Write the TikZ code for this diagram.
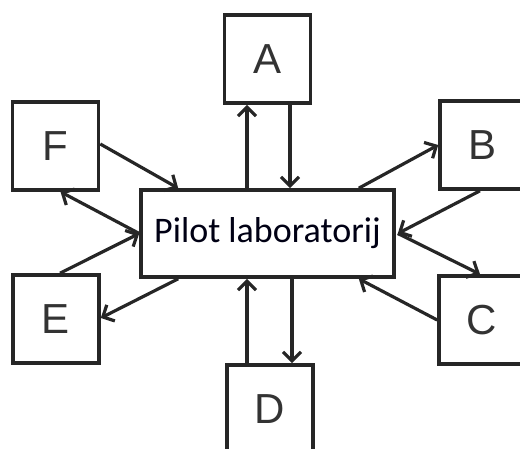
\documentclass[tikz,border=0pt]{standalone}
\usepackage{fontspec}
\setmainfont{Liberation Sans}
\newfontfamily\mainlabelfont{Carlito}
\usetikzlibrary{arrows.meta,calc}
\tikzset{
  every picture/.style={x=1pt,y=-1pt},
  letterbox/.style={draw=black!85, line width=3.6pt, fill=white, minimum width=86pt, minimum height=88pt, inner sep=0pt, font=\fontsize{42}{42}\selectfont, text=black!80},
  mainbox/.style={draw=black!85, line width=3.6pt, fill=white, minimum width=253pt, minimum height=87pt, inner sep=0pt, font=\mainlabelfont\fontsize{36}{36}\selectfont, text=black!92!blue},
  arr/.style={draw=black!85, line width=3.2pt, -{Straight Barb[length=9pt,width=18pt,line width=3.2pt]}},
}
\begin{document}
\begin{tikzpicture}
\useasboundingbox (0,0) rectangle (520,449);
\clip (0,0) rectangle (520,449);
\node[mainbox] (main) at (267.5,233.5) {Pilot laboratorij};
\node[letterbox] (A) at (267.5,59) {A};
\node[letterbox] (F) at (55.5,146) {F};
\node[letterbox] (E) at (56,319) {E};
\node[letterbox] (B) at (483,145) {B};
\node[letterbox] (C) at (482,320) {C};
\node[letterbox] (D) at (270,409) {D};
% A
\draw[arr] ([xshift=-20.5pt]main.north) -- ([xshift=-20.5pt]main.north |- A.south);
\draw[arr] ([xshift=22.5pt]A.south) -- ([xshift=22.5pt]A.south |- main.north);
% D
\draw[arr] ([xshift=-23pt]D.north) -- ([xshift=-23pt]D.north |- main.south);
\draw[arr] ([xshift=22pt]main.south -| D.north) -- ([xshift=22pt]D.north);
% F and E
\draw[arr] ([yshift=2pt]F.east) -- ([xshift=39pt]main.north west);
\draw[arr] (main.west) -- ([xshift=5pt]F.south);
\draw[arr] ([xshift=4pt]E.north) -- (main.west);
\draw[arr] ([xshift=39pt]main.south west) -- ([yshift=1pt]E.east);
% B and C
\draw[arr] ([xshift=-37pt]main.north east) -- (B.west);
\draw[arr] ([xshift=-3pt]B.south) -- ([xshift=2pt]main.east);
\draw[arr] ([xshift=2pt]main.east) -- ([xshift=-2pt]C.north);
\draw[arr] (C.west) -- ([xshift=-37pt]main.south east);
\end{tikzpicture}
\end{document}
